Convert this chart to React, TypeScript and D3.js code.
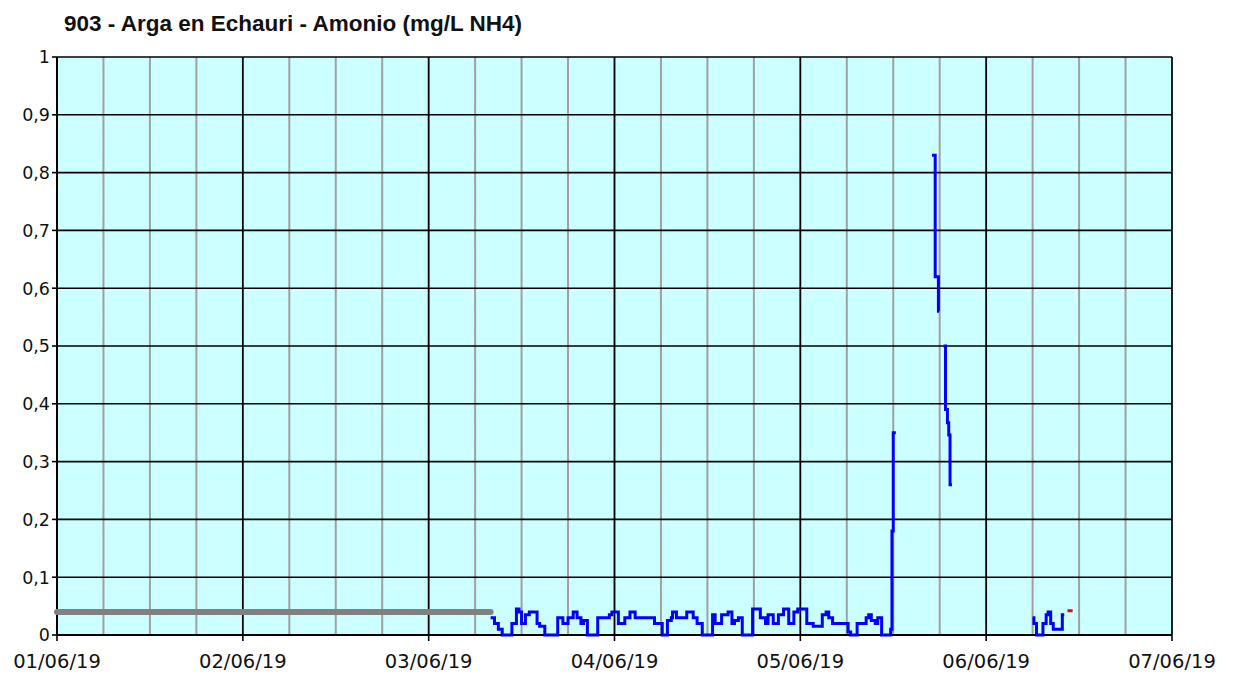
import React from "react";
import * as d3 from "d3";

const title = "903 - Arga en Echauri - Amonio (mg/L NH4)";
const dayTicks = ["2019-06-01", "2019-06-02", "2019-06-03", "2019-06-04", "2019-06-05", "2019-06-06", "2019-06-07"];
const dayLabels = ["01/06/19", "02/06/19", "03/06/19", "04/06/19", "05/06/19", "06/06/19", "07/06/19"];
const yTicks = [0, 0.1, 0.2, 0.3, 0.4, 0.5, 0.6, 0.7, 0.8, 0.9, 1];
const yLabels = ["0", "0,1", "0,2", "0,3", "0,4", "0,5", "0,6", "0,7", "0,8", "0,9", "1"];

// reference (gray) line
const grayTimes = ["2019-06-01T00:00", "2019-06-03T08:00"];
const grayValues = [0.04, 0.04];

// measured series (blue), null = gap
const blueSeries: [string, number | null][] = [
  ["2019-06-03T08:00", 0.03], ["2019-06-03T08:30", 0.02], ["2019-06-03T09:00", 0.01], ["2019-06-03T09:30", 0],
  ["2019-06-03T10:45", 0.02], ["2019-06-03T11:20", 0.045], ["2019-06-03T11:40", 0.04], ["2019-06-03T12:00", 0.02],
  ["2019-06-03T12:30", 0.035], ["2019-06-03T13:00", 0.04], ["2019-06-03T14:00", 0.02], ["2019-06-03T14:20", 0.015],
  ["2019-06-03T15:00", 0], ["2019-06-03T16:40", 0.03], ["2019-06-03T17:20", 0.02], ["2019-06-03T18:00", 0.03],
  ["2019-06-03T18:40", 0.04], ["2019-06-03T19:10", 0.03], ["2019-06-03T19:40", 0.02], ["2019-06-03T20:00", 0.025],
  ["2019-06-03T20:30", 0], ["2019-06-03T21:50", 0.03], ["2019-06-03T23:20", 0.035], ["2019-06-03T23:40", 0.04],
  ["2019-06-04T00:30", 0.02], ["2019-06-04T01:20", 0.03], ["2019-06-04T02:00", 0.04], ["2019-06-04T02:40", 0.03],
  ["2019-06-04T05:10", 0.02], ["2019-06-04T06:10", 0], ["2019-06-04T06:50", 0.025], ["2019-06-04T07:20", 0.03],
  ["2019-06-04T07:30", 0.04], ["2019-06-04T08:00", 0.03], ["2019-06-04T09:20", 0.04], ["2019-06-04T10:10", 0.03],
  ["2019-06-04T10:40", 0.02], ["2019-06-04T11:20", 0], ["2019-06-04T12:40", 0.035], ["2019-06-04T13:00", 0.02],
  ["2019-06-04T13:50", 0.035], ["2019-06-04T14:40", 0.04], ["2019-06-04T15:10", 0.02], ["2019-06-04T15:30", 0.025],
  ["2019-06-04T16:00", 0.03], ["2019-06-04T16:30", 0], ["2019-06-04T17:50", 0.045], ["2019-06-04T18:50", 0.03],
  ["2019-06-04T19:30", 0.02], ["2019-06-04T19:50", 0.035], ["2019-06-04T20:30", 0.02], ["2019-06-04T21:10", 0.035],
  ["2019-06-04T21:50", 0.045], ["2019-06-04T22:30", 0.02], ["2019-06-04T23:10", 0.04], ["2019-06-04T23:40", 0.045],
  ["2019-06-05T00:50", 0.02], ["2019-06-05T01:40", 0.015], ["2019-06-05T02:50", 0.035], ["2019-06-05T03:20", 0.04],
  ["2019-06-05T03:40", 0.03], ["2019-06-05T04:10", 0.02], ["2019-06-05T06:10", 0.005], ["2019-06-05T06:30", 0],
  ["2019-06-05T07:20", 0.02], ["2019-06-05T08:30", 0.03], ["2019-06-05T08:50", 0.035], ["2019-06-05T09:10", 0.025],
  ["2019-06-05T09:40", 0.02], ["2019-06-05T10:00", 0.03], ["2019-06-05T10:30", 0], ["2019-06-05T11:40", 0.01],
  ["2019-06-05T11:50", 0.18], ["2019-06-05T12:00", 0.35], ["2019-06-05T12:20", 0.35], ["2019-06-05T12:30", null],
  ["2019-06-05T17:00", 0.83], ["2019-06-05T17:25", 0.62], ["2019-06-05T17:50", 0.56], ["2019-06-05T17:55", 0.56],
  ["2019-06-05T18:00", null],
  ["2019-06-05T18:30", 0.5], ["2019-06-05T18:45", 0.39], ["2019-06-05T19:00", 0.367], ["2019-06-05T19:10", 0.346],
  ["2019-06-05T19:20", 0.26], ["2019-06-05T19:35", 0.26], ["2019-06-05T20:00", null],
  ["2019-06-06T06:00", 0.03], ["2019-06-06T06:10", 0.02], ["2019-06-06T06:30", 0], ["2019-06-06T07:20", 0.02],
  ["2019-06-06T07:45", 0.035], ["2019-06-06T08:00", 0.04], ["2019-06-06T08:20", 0.02], ["2019-06-06T08:40", 0.01],
  ["2019-06-06T09:50", 0.035], ["2019-06-06T10:05", 0.035],
];

// latest value (red)
const redTimes = ["2019-06-06T10:30", "2019-06-06T11:10"];
const redValues = [0.042, 0.042];

const W = 1233;
const H = 675;
const left = 57, right = 1172, top = 57, bottom = 635;

export default function App() {
  const x = d3.scaleTime()
    .domain([new Date("2019-06-01T00:00"), new Date("2019-06-07T00:00")])
    .range([left, right]);
  const y = d3.scaleLinear().domain([0, 1]).range([bottom, top]);

  const sixHours = d3.timeHour.every(6)!.range(new Date("2019-06-01T00:00"), new Date("2019-06-07T00:01"));
  const days = dayTicks.map((d) => new Date(d + "T00:00"));

  const grayLine = d3.line<number>()
    .x((_, i) => x(new Date(grayTimes[i])))
    .y((v) => y(v))(grayValues) || "";

  const blueLine = d3.line<[string, number | null]>()
    .defined((d) => d[1] !== null)
    .curve(d3.curveStepAfter)
    .x((d) => x(new Date(d[0])))
    .y((d) => y(d[1] as number))(blueSeries) || "";

  const redLine = d3.line<number>()
    .x((_, i) => x(new Date(redTimes[i])))
    .y((v) => y(v))(redValues) || "";

  const tickFont = "'DejaVu Sans', Verdana, sans-serif";

  return (
    <svg width={W} height={H} style={{ position: "absolute", left: 0, top: 0, background: "#fff" }}>
      <rect x={left} y={top} width={right - left} height={bottom - top} fill="#CCFFFF" />
      {sixHours.map((t, i) => (
        <line key={"g" + i} x1={x(t)} x2={x(t)} y1={top} y2={bottom} stroke="#A0A0A0" strokeWidth={2} />
      ))}
      {yTicks.map((v, i) => (
        <line key={"h" + i} x1={left} x2={right} y1={y(v)} y2={y(v)} stroke="#000" strokeWidth={1.6} />
      ))}
      {days.map((d, i) => (
        <line key={"d" + i} x1={x(d)} x2={x(d)} y1={top} y2={bottom} stroke="#000" strokeWidth={1.6} />
      ))}
      {/* axes */}
      <line x1={left} x2={left} y1={top} y2={bottom} stroke="#000" strokeWidth={2} />
      <line x1={left} x2={right} y1={bottom} y2={bottom} stroke="#000" strokeWidth={2} />
      {yTicks.map((v, i) => (
        <g key={"yt" + i}>
          <line x1={left - 5} x2={left} y1={y(v)} y2={y(v)} stroke="#000" strokeWidth={1.6} />
          <text x={left - 7} y={y(v)} dy="0.36em" textAnchor="end" fontFamily={tickFont} fontSize={17.5} fill="#111">
            {yLabels[i]}
          </text>
        </g>
      ))}
      {days.map((d, i) => (
        <g key={"xt" + i}>
          <line x1={x(d)} x2={x(d)} y1={bottom} y2={bottom + 6} stroke="#000" strokeWidth={1.6} />
          <text x={x(d)} y={bottom + 33} textAnchor="middle" fontFamily={tickFont} fontSize={19.5} fill="#111">
            {dayLabels[i]}
          </text>
        </g>
      ))}
      <path d={grayLine} fill="none" stroke="#808080" strokeWidth={6} strokeLinecap="round" />
      <path d={blueLine} fill="none" stroke="#0000FF" strokeWidth={3} />
      <path d={redLine} fill="none" stroke="#FF0000" strokeWidth={3} />
      <text x={64} y={31} fontFamily="'Liberation Sans', Arial, sans-serif" fontWeight="bold" fontSize={22.5} fill="#111">
        {title}
      </text>
    </svg>
  );
}
